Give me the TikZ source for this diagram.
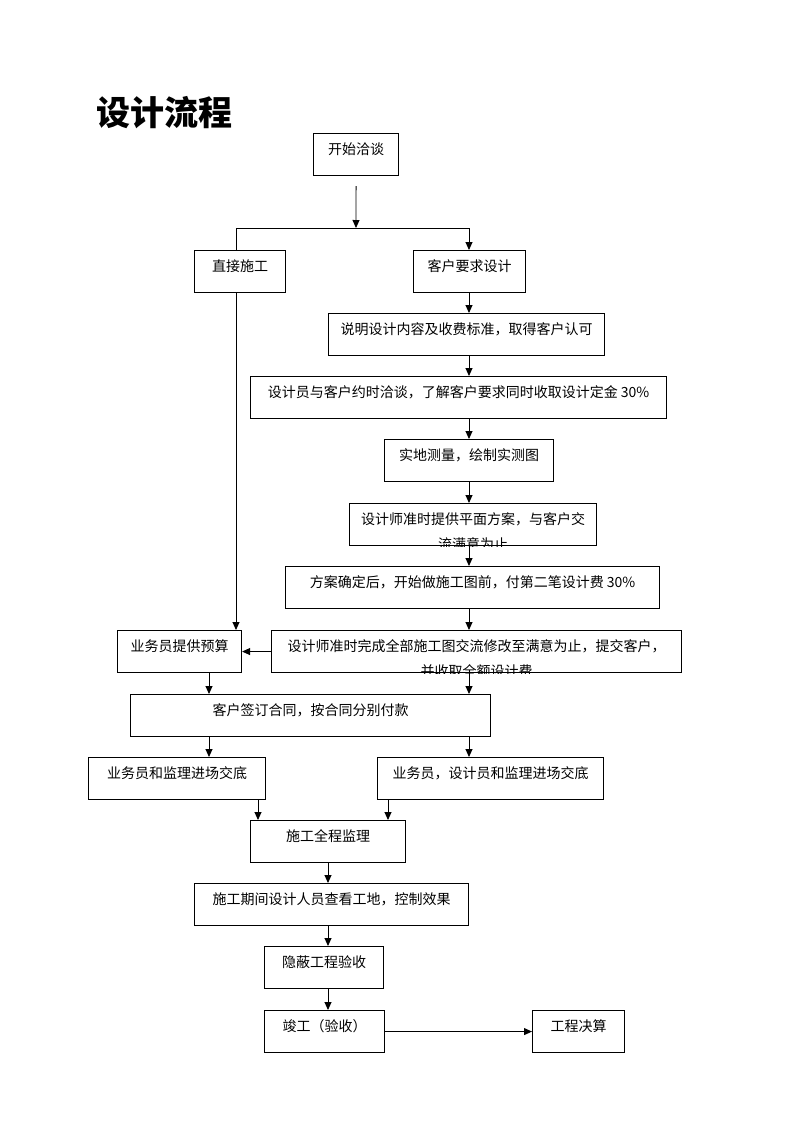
\documentclass[tikz,border=0pt]{standalone}
\usepackage{fontspec}
\setmainfont{Noto Sans CJK SC}
\usetikzlibrary{arrows.meta}
\begin{document}
\begin{tikzpicture}[x=1pt,y=-1pt,
  txt/.style={font=\fontsize{14pt}{17pt}\selectfont},
  box/.style={draw, line width=1.1pt, inner sep=0pt, anchor=north west,
    minimum width=#1, text height=21pt, text depth=21pt, txt},
  ln/.style={line width=0.9pt},
  arr/.style={ln, -{Triangle[length=8pt,width=7pt]}}]
\useasboundingbox (0,0) rectangle (800,1132);
\fill[white] (0,0) rectangle (800,1132);

\node[anchor=west, font=\fontsize{34pt}{40pt}\selectfont\bfseries] (title) at (93,113) {设计流程};

% boxes
\node[box=85pt]  (start)  at (313,133) {开始洽谈};
\node[box=91pt]  (zhijie) at (194,250) {直接施工};
\node[box=112pt] (kehu)   at (413,250) {客户要求设计};
\node[box=276pt] (shuo)   at (328,313) {说明设计内容及收费标准，取得客户认可};
\node[box=416pt] (yue)    at (250,376) {设计员与客户约时洽谈，了解客户要求同时收取设计定金 30\%};
\node[box=169pt] (cel)    at (384,439) {实地测量，绘制实测图};
\node[box=247pt] (ping)   at (349,503) {设计师准时提供平面方案，与客户交};
\node[box=374pt] (fang)   at (285,566) {方案确定后，开始做施工图前，付第二笔设计费 30\%};
\node[box=410pt] (wan)    at (271,630) {设计师准时完成全部施工图交流修改至满意为止，提交客户，};
\node[box=124pt] (yusuan) at (117,630) {业务员提供预算};
\node[box=360pt] (hetong) at (130,694) {客户签订合同，按合同分别付款};
\node[box=177pt] (jdL)    at (88,757)  {业务员和监理进场交底};
\node[box=226pt] (jdR)    at (377,757) {业务员，设计员和监理进场交底};
\node[box=155pt] (jianli) at (250,820) {施工全程监理};
\node[box=274pt] (chakan) at (194,883) {施工期间设计人员查看工地，控制效果};
\node[box=119pt] (yinbi)  at (264,946) {隐蔽工程验收};
\node[box=120pt] (jungong) at (264,1010) {竣工（验收）};
\node[box=92pt]  (juesuan) at (532,1010) {工程决算};

% clipped second lines
\begin{scope}
  \clip (ping.north west) rectangle (ping.south east);
  \node[txt, anchor=base, inner sep=0pt] (ping2) at ([yshift=-3pt]ping.south) {流满意为止};
\end{scope}
\begin{scope}
  \clip (wan.north west) rectangle (wan.south east);
  \node[txt, anchor=base, inner sep=0pt] (wan2) at ([yshift=-3pt]wan.south) {并收取全额设计费};
\end{scope}

% column coordinates
\coordinate (cA) at (236,0);
\coordinate (cL) at (209,0);
\coordinate (cR) at (469,0);
\coordinate (cM) at (328,0);
\coordinate (cJL) at (258,0);
\coordinate (cJR) at (388,0);
\coordinate (junc) at (356,228);

% connectors
\draw[arr] ([yshift=-10pt]start.south) -- (junc);
\draw[ln] (zhijie.north -| cA) -- (junc -| cA) -- (junc -| cR);
\draw[arr] (junc -| cR) -- (kehu.north -| cR);
\draw[arr] (kehu.south -| cR) -- (shuo.north -| cR);
\draw[arr] (shuo.south -| cR) -- (yue.north -| cR);
\draw[arr] (yue.south -| cR) -- (cel.north -| cR);
\draw[arr] (cel.south -| cR) -- (ping.north -| cR);
\draw[arr] (ping.south -| cR) -- (fang.north -| cR);
\draw[arr] (fang.south -| cR) -- (wan.north -| cR);
\draw[arr] (zhijie.south -| cA) -- (yusuan.north -| cA);
\draw[arr] (wan.west) -- (wan.west -| yusuan.east);
\draw[arr] (yusuan.south -| cL) -- (hetong.north -| cL);
\draw[arr] (wan.south -| cR) -- (hetong.north -| cR);
\draw[arr] (hetong.south -| cL) -- (jdL.north -| cL);
\draw[arr] (hetong.south -| cR) -- (jdR.north -| cR);
\draw[arr] (jdL.south -| cJL) -- (jianli.north -| cJL);
\draw[arr] (jdR.south -| cJR) -- (jianli.north -| cJR);
\draw[arr] (jianli.south -| cM) -- (chakan.north -| cM);
\draw[arr] (chakan.south -| cM) -- (yinbi.north -| cM);
\draw[arr] (yinbi.south -| cM) -- (jungong.north -| cM);
\draw[arr] (jungong.east) -- (juesuan.west);
\end{tikzpicture}
\end{document}
